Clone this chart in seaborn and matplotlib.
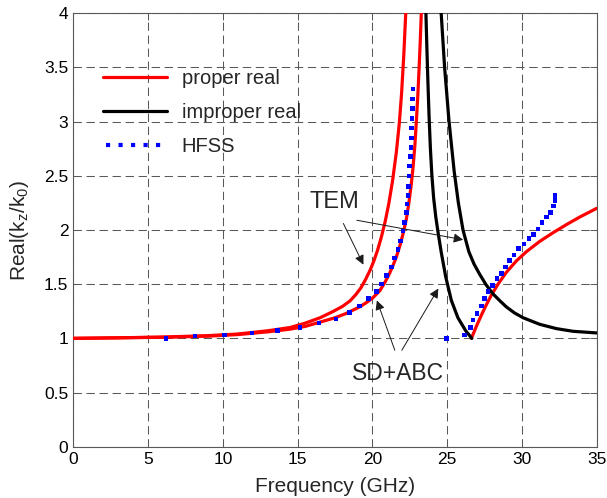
import numpy as np
import pandas as pd
import matplotlib
matplotlib.use("Agg")
import matplotlib.pyplot as plt
from matplotlib.lines import Line2D
import seaborn as sns

# ---------------- data ----------------
# proper real, TEM branch (outer red)
tem_red_f = [0, 3, 6, 9, 11, 13, 14.5, 15.5, 16.5, 17.4, 18.0, 18.5, 18.9, 19.25,
             19.55, 19.85, 20.1, 20.35, 20.6, 20.85, 21.1, 21.35, 21.6, 21.8, 21.95,
             22.1, 22.23]
tem_red_v = [1.0, 1.005, 1.012, 1.025, 1.04, 1.07, 1.10, 1.14, 1.19, 1.25, 1.295,
             1.345, 1.405, 1.47, 1.545, 1.63, 1.715, 1.815, 1.935, 2.075, 2.245,
             2.455, 2.715, 2.985, 3.255, 3.615, 4.0]
# proper real, SD+ABC branch (inner red)
sd_red_f = [0, 3, 6, 9, 11, 13, 14.5, 15.5, 16.5, 17.5, 18.25, 19.14, 19.6, 20.0,
            20.5, 20.85, 21.15, 21.4, 21.6, 21.85, 22.04, 22.27, 22.45, 22.6, 22.72,
            22.84, 22.94, 23.03, 23.12, 23.2, 23.27]
sd_red_v = [1.0, 1.005, 1.01, 1.02, 1.035, 1.06, 1.085, 1.11, 1.15, 1.19, 1.23, 1.29,
            1.33, 1.37, 1.44, 1.52, 1.60, 1.68, 1.75, 1.86, 1.96, 2.10, 2.26, 2.42,
            2.58, 2.78, 3.0, 3.22, 3.48, 3.74, 4.0]
# proper real, upper branch after the cusp
hi_red_f = [26.62, 26.95, 27.29, 27.62, 27.96, 28.4, 28.96, 29.63, 30.3, 31.19,
            32.08, 32.98, 33.87, 35.0]
hi_red_v = [1.0, 1.11, 1.215, 1.31, 1.40, 1.50, 1.61, 1.715, 1.80, 1.895, 1.975,
            2.05, 2.12, 2.20]
# improper real, SD+ABC branch (inner black)
sd_blk_f = [23.58, 23.64, 23.71, 23.79, 23.88, 23.98, 24.1, 24.24, 24.4, 24.61,
            24.9, 25.28, 25.72, 26.24, 26.65]
sd_blk_v = [4.0, 3.7, 3.38, 3.05, 2.75, 2.50, 2.29, 2.12, 1.97, 1.79, 1.57, 1.35,
            1.19, 1.07, 1.0]
# improper real, TEM branch (outer black)
tem_blk_f = [24.6, 24.83, 25.12, 25.47, 25.75, 26.06, 26.45, 26.8, 27.18, 27.6,
             28.07, 28.5, 28.96, 29.5, 30.08, 31.18, 32.3, 33.42, 35.0]
tem_blk_v = [4.0, 3.5, 3.01, 2.54, 2.25, 2.0, 1.80, 1.685, 1.59, 1.495, 1.41, 1.35,
             1.29, 1.235, 1.19, 1.13, 1.09, 1.065, 1.05]
# HFSS points
hfss1_f = [6.2, 8.15, 10.1, 11.96, 13.67, 15.15, 16.42, 17.58, 18.47, 19.14, 19.75,
           20.26, 20.6, 20.93, 21.27, 21.49, 21.7, 21.86, 22.04, 22.15, 22.27, 22.31,
           22.38, 22.42, 22.46, 22.5, 22.55, 22.58, 22.61, 22.63, 22.66, 22.68, 22.7,
           22.71]
hfss1_v = [1.0, 1.02, 1.03, 1.05, 1.07, 1.10, 1.14, 1.18, 1.24, 1.30, 1.37, 1.43,
           1.5, 1.58, 1.66, 1.74, 1.82, 1.9, 1.99, 2.07, 2.16, 2.24, 2.32, 2.4, 2.5,
           2.59, 2.68, 2.76, 2.85, 2.94, 3.03, 3.12, 3.21, 3.30]
hfss2_f = [24.94, 26.17, 26.55, 26.73, 27.0, 27.29, 27.51, 27.73, 28.02, 28.33,
           28.63, 28.9, 29.18, 29.47, 29.79, 30.14, 30.48, 30.79, 31.08, 31.35,
           31.64, 31.91, 32.13, 32.2, 32.2]
hfss2_v = [1.00, 1.03, 1.10, 1.17, 1.23, 1.30, 1.37, 1.43, 1.49, 1.55, 1.60, 1.66,
           1.72, 1.77, 1.83, 1.87, 1.92, 1.96, 2.01, 2.07, 2.12, 2.16, 2.22, 2.27,
           2.32]

legend_labels = ["proper real", "improper real", "HFSS"]
x_ticks = [0, 5, 10, 15, 20, 25, 30, 35]
y_ticks = [0, 0.5, 1, 1.5, 2, 2.5, 3, 3.5, 4]
y_tick_labels = ["0", "0.5", "1", "1.5", "2", "2.5", "3", "3.5", "4"]

# ---------------- figure ----------------
sns.set_theme(style="white")
plt.rcParams["font.family"] = ["Liberation Sans", "DejaVu Sans"]
plt.rcParams["mathtext.fontset"] = "custom"
plt.rcParams["mathtext.rm"] = "Liberation Sans"

W, H = 607, 498
fig = plt.figure(figsize=(W / 100, H / 100), dpi=100)
ax = fig.add_axes([73.3 / W, 1 - 446.7 / H, 523.4 / W, 433.4 / H])

lw = 2.3
for f, v, c in [(tem_red_f, tem_red_v, "red"), (sd_red_f, sd_red_v, "red"),
                (hi_red_f, hi_red_v, "red"),
                (sd_blk_f, sd_blk_v, "black"), (tem_blk_f, tem_blk_v, "black")]:
    df = pd.DataFrame({"f": f, "v": v})
    sns.lineplot(data=df, x="f", y="v", ax=ax, color=c, lw=lw, sort=False,
                 estimator=None, legend=False, zorder=3)

hf = pd.DataFrame({"f": hfss1_f + hfss2_f, "v": hfss1_v + hfss2_v})
sns.scatterplot(data=hf, x="f", y="v", ax=ax, marker="s", s=11, color="blue",
                edgecolor="none", linewidth=0, legend=False, zorder=4)

ax.set_xlim(0, 35)
ax.set_ylim(0, 4)
ax.set_xticks(x_ticks)
ax.set_yticks(y_ticks)
ax.set_yticklabels(y_tick_labels)

gc = "0.35"
ax.grid(True, ls=(0, (8, 4.5)), lw=0.75, color=gc)
ax.set_axisbelow(True)
for s in ax.spines.values():
    s.set_color(gc)
    s.set_linewidth(0.8)
ax.tick_params(direction="in", length=5, width=0.7, color=gc, top=True, right=True,
               labelsize=12.5, labelcolor="black")
ax.tick_params(axis="x", pad=4)
ax.tick_params(axis="y", pad=3.5)

ax.set_xlabel("Frequency (GHz)", fontsize=15)
ax.set_ylabel(r"$\mathregular{Real(k_z/k_0)}$", fontsize=15)
ax.xaxis.set_label_coords(0.5, -0.07)
ax.yaxis.set_label_coords(-0.08, 0.5)

# annotations
ap = dict(arrowstyle="-|>", color="k", lw=0.7, mutation_scale=14,
          shrinkA=0, shrinkB=0)
ax.annotate("", xy=(26.07, 1.91), xytext=(18.96, 2.09), arrowprops=ap)
ax.annotate("", xy=(19.4, 1.68), xytext=(18.06, 2.06), arrowprops=ap)
ax.text(17.43, 2.26, "TEM", fontsize=17, ha="center", va="center")
ax.annotate("", xy=(20.3, 1.35), xytext=(21.5, 0.89), arrowprops=ap)
ax.annotate("", xy=(24.41, 1.46), xytext=(21.97, 0.89), arrowprops=ap)
ax.text(21.7, 0.675, "SD+ABC", fontsize=16.5, ha="center", va="center")

handles = [Line2D([], [], color="red", lw=lw),
           Line2D([], [], color="black", lw=lw),
           Line2D([], [], color="blue", lw=3.0, ls=(2.28, (1, 2)),
                  dash_capstyle="butt")]
ax.legend(handles, legend_labels, loc="upper left", bbox_to_anchor=(0.0562, 0.872),
          frameon=False, fontsize=14.5, handlelength=3.2, handletextpad=0.72,
          labelspacing=0.74, borderpad=0, borderaxespad=0)

fig.savefig("out.png", dpi=100)
